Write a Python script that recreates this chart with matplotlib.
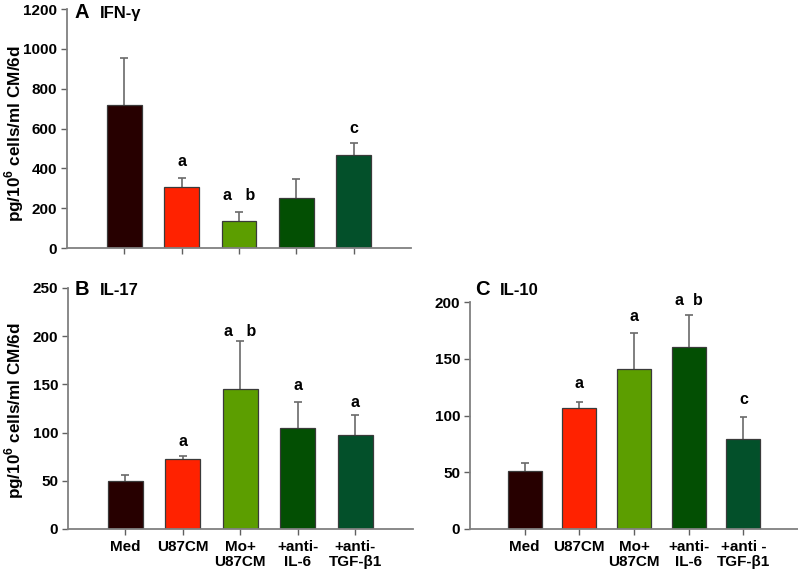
import matplotlib
matplotlib.use("Agg")
import matplotlib.pyplot as plt
import numpy as np

plt.rcParams['font.family'] = ['Liberation Sans', 'DejaVu Sans']
plt.rcParams['font.weight'] = 'bold'
plt.rcParams['mathtext.fontset'] = 'custom'
plt.rcParams['mathtext.rm'] = 'Liberation Sans:bold'
plt.rcParams['mathtext.bf'] = 'Liberation Sans:bold'

categories = ["Med", "U87CM", "Mo+\nU87CM", "+anti-\nIL-6", "+anti-\nTGF-β1"]
categories_c = ["Med", "U87CM", "Mo+\nU87CM", "+anti-\nIL-6", "+anti -\nTGF-β1"]
colors = ["#270000", "#ff2200", "#5c9e00", "#034f03", "#03502a"]

ifng = [720, 305, 137, 250, 468]
ifng_err = [235, 45, 42, 98, 62]
ifng_sig = ["", "a", "a   b", "", "c"]
ifng_sig_y = [0, 410, 243, 0, 577]

il17 = [50, 73, 145, 105, 97]
il17_err = [6, 3, 50, 27, 21]
il17_sig = ["", "a", "a   b", "a", "a"]
il17_sig_y = [0, 86, 200, 144, 127]

il10 = [51, 107, 141, 160, 79]
il10_err = [7, 5, 32, 29, 20]
il10_sig = ["", "a", "a", "a  b", "c"]
il10_sig_y = [0, 124, 183, 197, 110]

ylabel = r"pg/10$^{6}$ cells/ml CM/6d"

fig = plt.figure(figsize=(7.98, 5.73), dpi=100)
axA = fig.add_axes([0.084, 0.567, 0.431, 0.417])
axB = fig.add_axes([0.085, 0.0768, 0.432, 0.4206])
axC = fig.add_axes([0.589, 0.0768, 0.411, 0.396])

def draw(ax, vals, errs, sig, sigy, ymax, ystep, labels, letter, name, lx, ly, nx, width=0.61):
    x = np.arange(len(vals))
    vals = np.array(vals, dtype=float)
    errs = np.array(errs, dtype=float)
    ax.bar(x, vals, width=width, color=colors, edgecolor="#3a3a3a", linewidth=0.9, zorder=2)
    ax.vlines(x, vals, vals + errs, color="#6a6a6a", linewidth=1.2, zorder=1)
    ax.hlines(vals + errs, x - 0.07, x + 0.07, color="#6a6a6a", linewidth=1.2, zorder=1)
    for xi, s, sy in zip(x, sig, sigy):
        if s:
            ax.text(xi, sy, s, ha="center", va="baseline", fontsize=11.5, fontweight="bold")
    ax.set_xlim(-1, 5)
    ax.set_ylim(0, ymax)
    ax.set_yticks(np.arange(0, ymax + 1, ystep))
    ax.set_xticks(x)
    if labels is None:
        ax.set_xticklabels([])
    else:
        ax.set_xticklabels(labels, fontsize=11, fontweight="bold", linespacing=1.1)
    for lab in ax.get_yticklabels():
        lab.set_fontsize(11)
        lab.set_fontweight("bold")
    for s in ["top", "right"]:
        ax.spines[s].set_visible(False)
    for s in ["left", "bottom"]:
        ax.spines[s].set_color("#808080")
        ax.spines[s].set_linewidth(1.3)
    ax.tick_params(axis="both", direction="out", length=4, color="#606060", width=1)
    ax.tick_params(axis="x", pad=4)
    ax.tick_params(axis="y", pad=3)
    ax.text(lx, ly, letter, transform=ax.transAxes, fontsize=14.5, fontweight="bold",
            ha="left", va="baseline")
    ax.text(nx, ly, name, transform=ax.transAxes, fontsize=12, fontweight="bold",
            ha="left", va="baseline")

draw(axA, ifng, ifng_err, ifng_sig, ifng_sig_y, 1200, 200, None, "A", "IFN-γ", 0.023, 0.963, 0.096)
draw(axB, il17, il17_err, il17_sig, il17_sig_y, 250, 50, categories, "B", "IL-17", 0.02, 0.971, 0.093)
draw(axC, il10, il10_err, il10_sig, il10_sig_y, 200, 50, categories_c, "C", "IL-10", 0.015, 1.031, 0.091, width=0.62)

axA.set_ylabel(ylabel, fontsize=12.3, fontweight="bold")
axA.yaxis.set_label_coords(-0.118, 0.478)
axB.set_ylabel(ylabel, fontsize=12.3, fontweight="bold")
axB.yaxis.set_label_coords(-0.12, 0.49)

fig.savefig("out.png", dpi=100)
